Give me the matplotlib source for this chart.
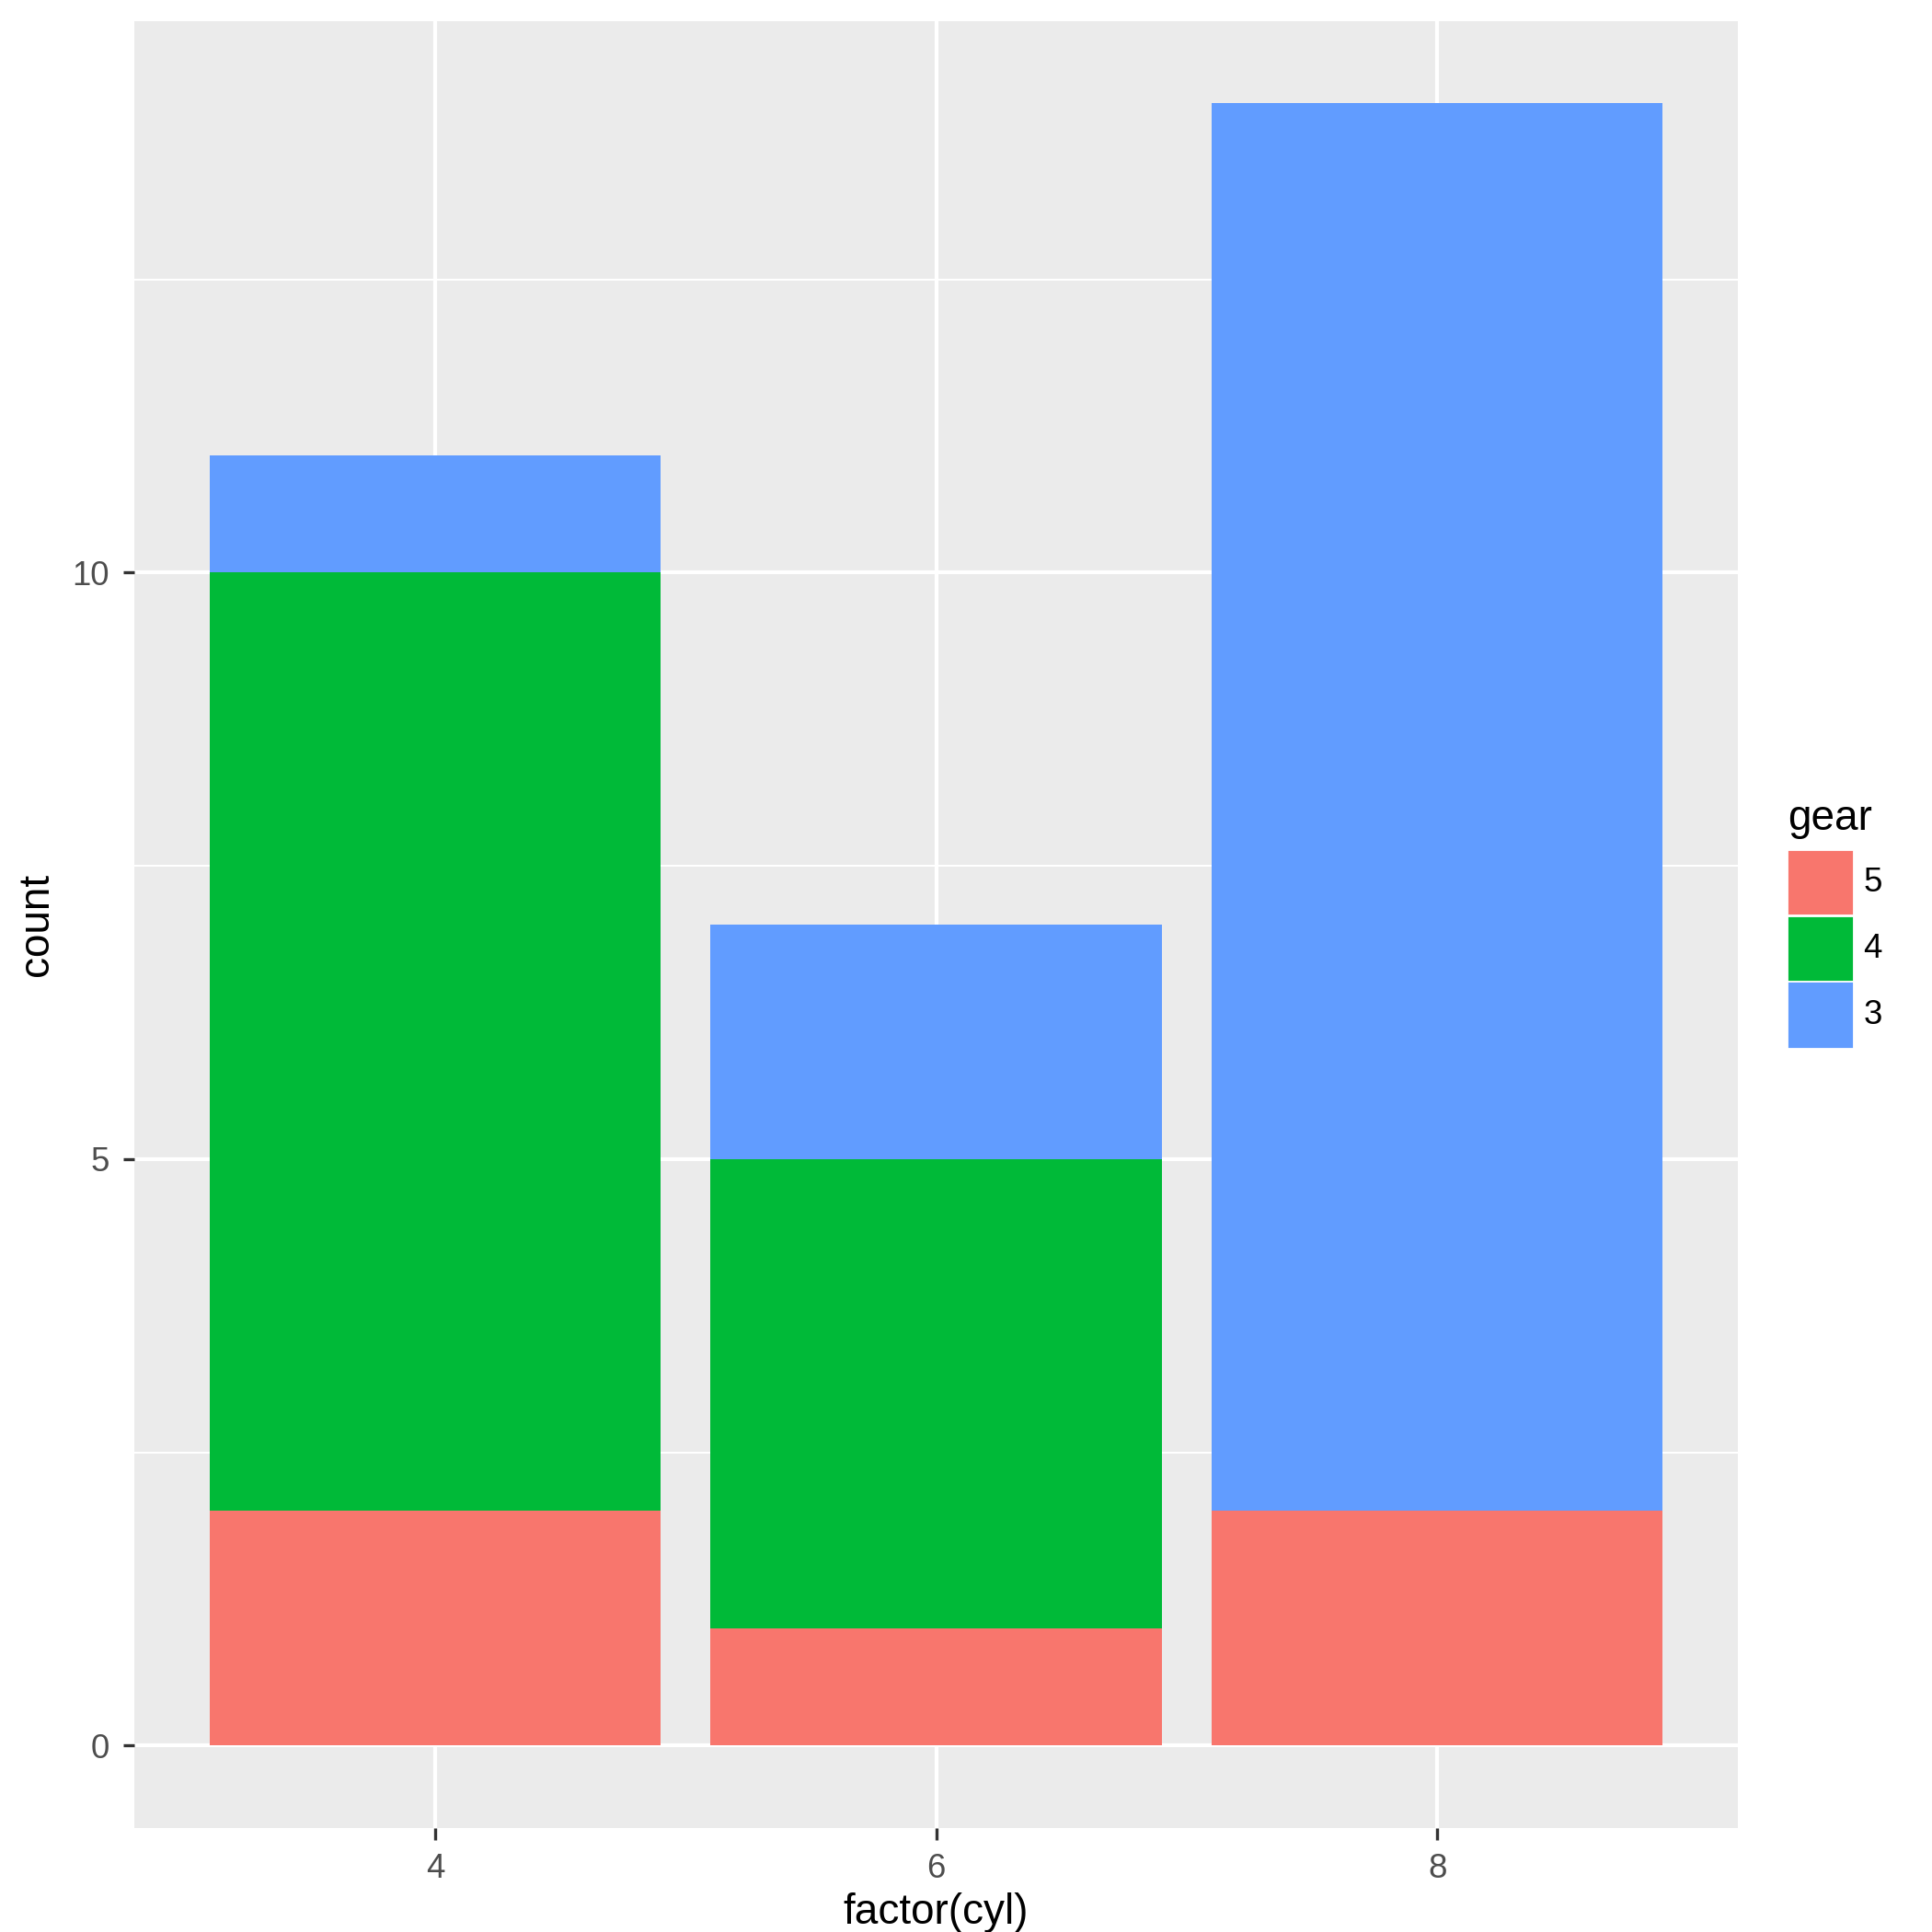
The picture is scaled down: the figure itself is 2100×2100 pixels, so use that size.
import matplotlib
matplotlib.use("Agg")
import matplotlib.pyplot as plt
from matplotlib.patches import Rectangle

cyl = ["4", "6", "8"]
gears = ["5", "4", "3"]
counts = {"5": [2, 1, 2], "4": [8, 4, 0], "3": [1, 2, 12]}
colors = {"5": "#F8766D", "4": "#00BA38", "3": "#619CFF"}

plt.rcParams['font.family'] = ['Liberation Sans', 'DejaVu Sans']
fig = plt.figure(figsize=(7, 7), dpi=300)
ax = fig.add_axes([0.0696, 0.054, 0.8299, 0.935])
ax.set_facecolor("#EBEBEB")
x = [1, 2, 3]
bottom = [0, 0, 0]
for g in gears:
    ax.bar(x, counts[g], 0.9, bottom=bottom, color=colors[g], zorder=3)
    bottom = [b + c for b, c in zip(bottom, counts[g])]
ax.set_xlim(0.4, 3.6)
ax.set_ylim(-0.7, 14.7)
ax.set_xticks(x)
ax.set_xticklabels(cyl)
ax.set_yticks([0, 5, 10])
ax.set_yticks([2.5, 7.5, 12.5], minor=True)
ax.grid(True, which="major", color="white", linewidth=1.0, zorder=1)
ax.grid(True, which="minor", color="white", linewidth=0.5, zorder=1)
ax.tick_params(which="minor", length=0)
ax.tick_params(which="major", length=3, width=0.8, color="#333333", labelsize=8.8, labelcolor="#4D4D4D")
for s in ax.spines.values():
    s.set_visible(False)
ax.set_xlabel("factor(cyl)", fontsize=11, labelpad=2)
ax.set_ylabel("count", fontsize=11, labelpad=4)

fig.text(1436/1552, 1-658/1552, "gear", fontsize=11, va="center", ha="left")
keys = [(685, 733), (738, 786), (791, 840)]
for g, (t, b) in zip(gears, keys):
    fig.patches.append(Rectangle((1438/1552, 1-b/1552), 49/1552, (b-t)/1552,
                                 transform=fig.transFigure, color=colors[g]))
    fig.text(1497/1552, 1-(t+b)/2/1552, g, fontsize=8.8, va="center", ha="left")

fig.savefig("out.png", dpi=300)
